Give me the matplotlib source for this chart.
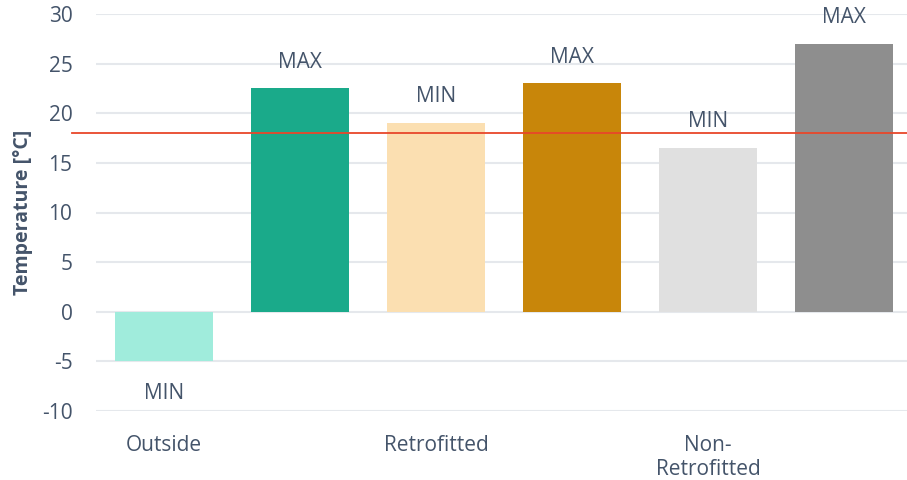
import numpy as np
import matplotlib.pyplot as plt

# chart data
bar_labels = ['MIN', 'MAX', 'MIN', 'MAX', 'MIN', 'MAX']
temps = [-5, 22.5, 19, 23, 16.5, 27]
colors = ['#a0ecdc', '#1aaa8a', '#fbdfb1', '#c8860a', '#e0e0e0', '#8e8e8e']
tick_names = ['Outside', '', 'Retrofitted', '', 'Non-\nRetrofitted', '']
threshold = 18

text_col = '#44546a'
plt.rcParams['font.family'] = ['Open Sans', 'DejaVu Sans']
plt.rcParams['axes.unicode_minus'] = False

fig = plt.figure(figsize=(9.07, 4.8), dpi=100)
ax = fig.add_axes([96 / 907, 69 / 480, 816 / 907, 397 / 480])

x = np.arange(len(temps))
bars = ax.bar(x, temps, width=0.72, color=colors, zorder=2)

for b, lab, v in zip(bars, bar_labels, temps):
    cx = b.get_x() + b.get_width() / 2
    off = 19 if v >= 0 else -23
    ax.annotate(lab, (cx, v), xytext=(0, off), textcoords='offset points',
                ha='center', va='center', fontsize=15, color=text_col)

ax.axhline(threshold, xmin=-0.03, xmax=1, color='#e8472a', lw=1.3,
           clip_on=False, zorder=3)

ax.set_xlim(-0.5, 5.5)
ax.set_ylim(-10, 30)
ax.set_yticks(np.arange(-10, 31, 5))
ax.set_xticks(x)
ax.set_xticklabels(tick_names, fontsize=15, color=text_col, linespacing=1.2)
ax.tick_params(axis='y', length=0, pad=17, labelsize=15, labelcolor=text_col)
ax.tick_params(axis='x', length=0, pad=17)
ax.grid(axis='y', color='#e5e8ec', lw=1.5, zorder=0)
ax.set_axisbelow(True)
for s in ax.spines.values():
    s.set_visible(False)

ax.set_ylabel('Temperature [°C]', fontsize=14, fontweight='bold',
              color=text_col, labelpad=6)

fig.savefig('out.png', dpi=100)
